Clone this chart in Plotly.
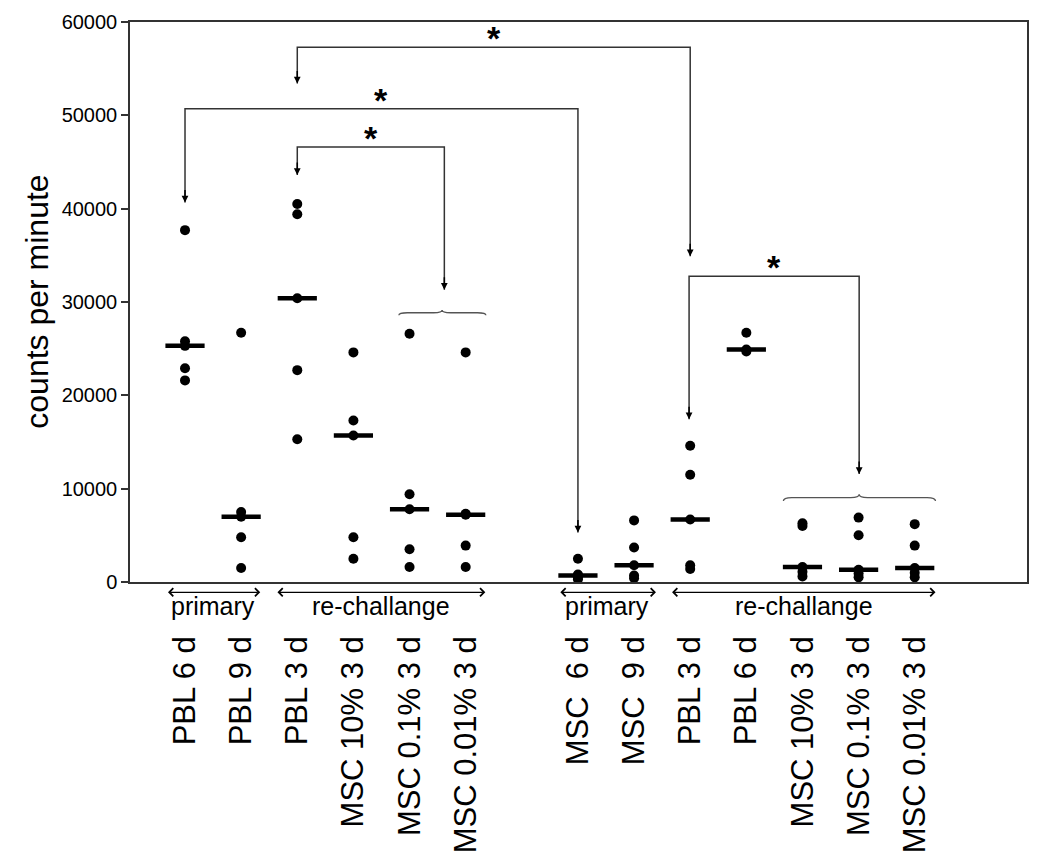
import numpy as np
import plotly.graph_objects as go

# ---------------- data ----------------
categories = ["PBL 6 d", "PBL 9 d", "PBL 3 d", "MSC 10% 3 d", "MSC 0.1% 3 d", "MSC 0.01% 3 d",
              "MSC\u00a0 6 d", "MSC\u00a0 9 d", "PBL 3 d", "PBL 6 d", "MSC 10% 3 d", "MSC 0.1% 3 d",
              "MSC 0.01% 3 d"]
cat_pos = [0, 1, 2, 3, 4, 5, 7, 8, 9, 10, 11, 12, 13]

pbl_6d_primary = [37700, 25800, 25300, 22900, 21600]
pbl_9d_primary = [26700, 7500, 7000, 4800, 1500]
pbl_3d_rechal = [40500, 39400, 30400, 22700, 15300]
msc10_3d_rechal = [24600, 17300, 15700, 4800, 2500]
msc01_3d_rechal = [26600, 9400, 7800, 3500, 1600]
msc001_3d_rechal = [24600, 7300, 7200, 3900, 1600]
msc_6d_primary = [2500, 800, 700, 500, 300]
msc_9d_primary = [6600, 3700, 1800, 700, 400]
pbl_3d_rechal2 = [14600, 11500, 6700, 1800, 1400]
pbl_6d_rechal2 = [26700, 24900, 24700]
msc10_3d_rechal2 = [6300, 6000, 1600, 1100, 600]
msc01_3d_rechal2 = [6900, 5000, 1300, 900, 500]
msc001_3d_rechal2 = [6200, 3900, 1500, 1000, 500]

y_ticks = [0, 10000, 20000, 30000, 40000, 50000, 60000]

all_values = [pbl_6d_primary, pbl_9d_primary, pbl_3d_rechal, msc10_3d_rechal, msc01_3d_rechal,
              msc001_3d_rechal, msc_6d_primary, msc_9d_primary, pbl_3d_rechal2, pbl_6d_rechal2,
              msc10_3d_rechal2, msc01_3d_rechal2, msc001_3d_rechal2]

FONT = "Liberation Sans, Arial, sans-serif"
LINE = "#333333"

fig = go.Figure()

xs, ys = [], []
for p, vals in zip(cat_pos, all_values):
    xs += [p] * len(vals)
    ys += vals
fig.add_trace(go.Scatter(x=xs, y=ys, mode="markers",
                         marker=dict(color="black", size=10, symbol="circle"),
                         showlegend=False, hoverinfo="y"))

medians = [float(np.median(v)) for v in all_values]
fig.add_trace(go.Scatter(x=cat_pos, y=medians, mode="markers",
                         marker=dict(symbol="line-ew", size=28, color="black",
                                     line=dict(color="black", width=4.5)),
                         showlegend=False, hoverinfo="y"))

# ------------- significance brackets -------------
# (x_left, x_right, y_top, y_tip_left, y_tip_right)
brackets = [
    (2, 9, 57300, 53400, 34900),
    (0, 7, 50700, 40650, 5300),
    (2, 4.62, 46600, 43600, 31300),
    (8.98, 12.01, 32760, 17450, 11560),
]
shapes = []
annotations = []
for x0, x1, yt, t0, t1 in brackets:
    shapes.append(dict(type="path", xref="x", yref="y",
                       path=f"M {x0},{t0} L {x0},{yt} L {x1},{yt} L {x1},{t1}",
                       line=dict(color=LINE, width=1.5)))
    for xx, tt in ((x0, t0), (x1, t1)):
        annotations.append(dict(x=xx, y=tt, xref="x", yref="y", ax=0, ay=-14,
                                axref="pixel", ayref="pixel", text="", showarrow=True,
                                arrowhead=2, arrowsize=0.9, arrowwidth=1.5,
                                arrowcolor="black"))
    annotations.append(dict(x=(x0 + x1) / 2, y=yt, xref="x", yref="y", text="<b>*</b>",
                            showarrow=False, yanchor="middle", yshift=9,
                            font=dict(family=FONT, size=34, color="black")))

# curly braces: (x_left, x_right, x_center, y_end, y_main, y_peak)
braces = [
    (3.81, 5.36, 4.58, 28590, 28850, 29150),
    (10.66, 13.37, 12.01, 8670, 9050, 9400),
]
for xl, xr, xc, ye, ym, yp in braces:
    d = 0.15
    path = (f"M {xl},{ye} Q {xl},{ym} {xl + d},{ym} L {xc - d},{ym} "
            f"Q {xc},{ym} {xc},{yp} Q {xc},{ym} {xc + d},{ym} L {xr - d},{ym} "
            f"Q {xr},{ym} {xr},{ye}")
    shapes.append(dict(type="path", xref="x", yref="y", path=path,
                       line=dict(color="#555555", width=1.3)))

# group arrows under axis: (x_start, x_end, label_center, label)
groups = [
    (-0.33, 1.34, 0.49, "primary"),
    (1.62, 5.35, 3.49, "re-challange"),
    (6.66, 8.39, 7.52, "primary"),
    (8.65, 13.37, 11.02, "re-challange"),
]
for xa, xb, xc, lab in groups:
    annotations.append(dict(x=xb, y=-0.0184, xref="x", yref="paper", ax=xa, ay=0,
                            axref="x", ayref="pixel", text="", showarrow=True,
                            arrowhead=4, arrowside="end+start", arrowsize=1.2,
                            arrowwidth=1.3, arrowcolor="black"))
    annotations.append(dict(x=xc, y=-0.043, xref="x", yref="paper", text=lab,
                            showarrow=False, yanchor="middle",
                            font=dict(family=FONT, size=25, color="black")))

annotations.append(dict(x=-0.104, y=0.5, xref="paper", yref="paper",
                        text="counts per minute", textangle=-90, showarrow=False,
                        xanchor="center", yanchor="middle",
                        font=dict(family=FONT, size=32, color="black")))

fig.update_layout(
    width=1050, height=867,
    margin=dict(l=122, r=31, t=14, b=293),
    paper_bgcolor="white", plot_bgcolor="white",
    shapes=shapes, annotations=annotations,
    font=dict(family=FONT, color="black"),
    xaxis=dict(range=[-0.98, 15.0], tickvals=cat_pos, ticktext=categories,
               tickangle=-90, ticks="", showgrid=False, zeroline=False,
               showline=True, linecolor=LINE, linewidth=1.5, mirror=True,
               tickfont=dict(family=FONT, size=31, color="black"),
               ticklabelstandoff=40, automargin=False),
    yaxis=dict(range=[0, 60000], tickvals=y_ticks, ticktext=[str(v) for v in y_ticks],
               ticks="outside", ticklen=7, tickcolor=LINE, tickwidth=1.5,
               showgrid=False, zeroline=False, showline=True, linecolor=LINE,
               linewidth=1.5, mirror=True, automargin=False,
               tickfont=dict(family=FONT, size=20, color="black")),
)

fig.write_html("out.html")
